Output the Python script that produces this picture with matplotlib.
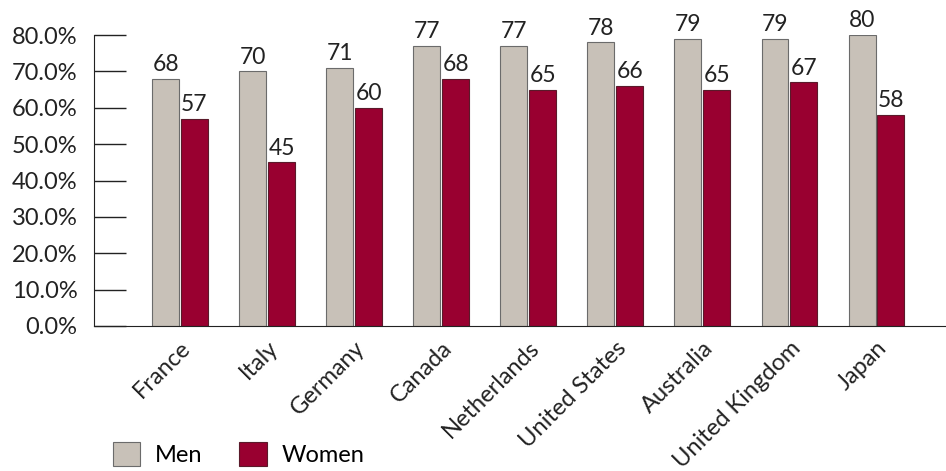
import matplotlib
matplotlib.use("Agg")
import matplotlib.pyplot as plt
import numpy as np

countries = ["France", "Italy", "Germany", "Canada", "Netherlands",
             "United States", "Australia", "United Kingdom", "Japan"]
men = [68, 70, 71, 77, 77, 78, 79, 79, 80]
women = [57, 45, 60, 68, 65, 66, 65, 67, 58]

plt.rcParams['font.family'] = ['Lato', 'DejaVu Sans']

fig = plt.figure(figsize=(9.46, 4.71), dpi=100)
ax = fig.add_axes([94/946, 1 - 326/471, 1 - 94/946, (326 - 35)/471])

x = np.arange(len(countries))
w = 0.31
b1 = ax.bar(x - 0.165, men, w, color="#c8c1b8", edgecolor="#6b6b6b", linewidth=0.8, label="Men")
b2 = ax.bar(x + 0.165, women, w, color="#990030", edgecolor="#5a1a2a", linewidth=0.8, label="Women")

for rect, v in zip(b1, men):
    ax.text(rect.get_x() + rect.get_width()/2, v + 1.0, str(v), ha="center", va="bottom", fontsize=16.5, color="#222222")
for rect, v in zip(b2, women):
    ax.text(rect.get_x() + rect.get_width()/2, v + 1.0, str(v), ha="center", va="bottom", fontsize=16.5, color="#222222")

ax.set_ylim(0, 80)
ax.set_xlim(-0.99, 8.8)
ax.set_yticks(np.arange(0, 81, 10))
ax.set_yticklabels([f"{t:.1f}%" for t in range(0, 81, 10)], fontsize=17, color="#222222")
ax.tick_params(axis="y", direction="in", length=23, width=1, color="#222222", pad=12)
ax.set_xticks(x)
ax.set_xticklabels(countries, rotation=45, ha="right", rotation_mode="anchor", fontsize=17, color="#222222")
ax.tick_params(axis="x", length=0, pad=8)

for s in ["top", "right"]:
    ax.spines[s].set_visible(False)
ax.spines["left"].set_color("#222222")
ax.spines["bottom"].set_color("#222222")

fig.legend(handles=[b1, b2], loc="lower left", bbox_to_anchor=(101/946, -0.014),
           ncol=2, frameon=False, fontsize=17, handlelength=1.15, handleheight=1.15,
           columnspacing=1.55, handletextpad=0.65, borderaxespad=0.1)

fig.savefig("out.png", dpi=100)
